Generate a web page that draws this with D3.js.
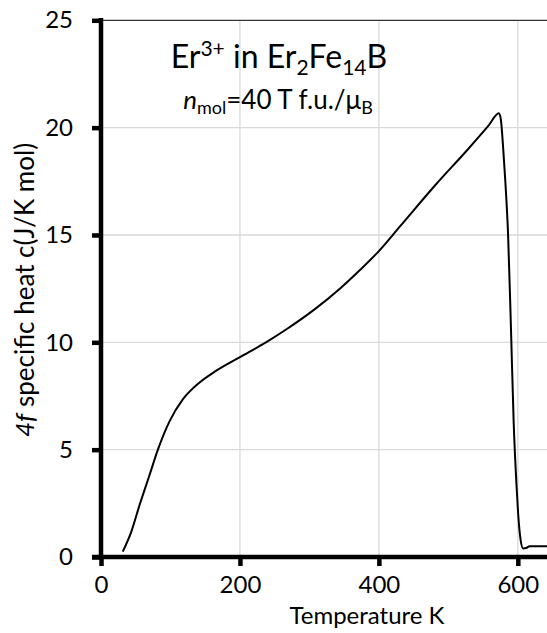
<!DOCTYPE html>
<html>
<head>
<meta charset="utf-8">
<script src="https://cdn.jsdelivr.net/npm/d3@7"></script>
<style>
  body { margin: 0; background: #fff; }
  svg { display: block; font-family: Lato, "Open Sans", sans-serif; }
</style>
</head>
<body>
<div id="chart"></div>
<script>
// data: temperature (K) and 4f specific heat (J/K mol)
const temps = [31.3, 43.4, 55.4, 69.9, 81.9, 98.8, 118, 142, 166, 200, 238.6, 267.5, 306, 344.6,
  373.5, 400, 431, 482, 527.6, 557.8, 572.7, 575.5, 579, 582, 586, 590, 594, 598, 600.4, 604, 607.6, 612, 617, 642];
const heat = [0.25, 1.16, 2.41, 3.82, 5.0, 6.33, 7.35, 8.13, 8.68, 9.31, 10.02, 10.62, 11.5, 12.52,
  13.39, 14.25, 15.42, 17.35, 18.97, 20.09, 20.67, 20.4, 19.0, 17.5, 15.0, 10.8, 6.3, 3.4, 2.05, 0.8, 0.4, 0.42, 0.5, 0.5];
const xTicks = [0, 200, 400, 600];
const yTicks = [0, 5, 10, 15, 20, 25];

const width = 547, height = 633;
const svg = d3.select("#chart").append("svg")
  .attr("width", width).attr("height", height);

const x = d3.scaleLinear().domain([0, 642]).range([101, 547]);
const y = d3.scaleLinear().domain([0, 25]).range([557, 20.3]);

// gridlines
svg.append("g").selectAll("line").data(xTicks.filter(d => d > 0)).join("line")
  .attr("x1", d => x(d)).attr("x2", d => x(d))
  .attr("y1", y(0)).attr("y2", y(25))
  .attr("stroke", "#d9d9d9").attr("stroke-width", 1.3);
svg.append("g").selectAll("line").data(yTicks.filter(d => d > 0 && d < 25)).join("line")
  .attr("x1", x(0)).attr("x2", width)
  .attr("y1", d => y(d)).attr("y2", d => y(d))
  .attr("stroke", "#d9d9d9").attr("stroke-width", 1.3);

// top border
svg.append("line")
  .attr("x1", x(0)).attr("x2", width)
  .attr("y1", y(25)).attr("y2", y(25))
  .attr("stroke", "#333").attr("stroke-width", 1.3);

// curve
const line = d3.line().x((d, i) => x(temps[i])).y(d => y(d)).curve(d3.curveMonotoneX);
svg.append("path")
  .attr("d", line(heat))
  .attr("fill", "none").attr("stroke", "#000").attr("stroke-width", 2);

// axes
const xAxis = svg.append("g")
  .attr("transform", `translate(0,${y(0)})`)
  .call(d3.axisBottom(x).tickValues(xTicks).tickSize(9).tickSizeOuter(0).tickPadding(9));
const yAxis = svg.append("g")
  .attr("transform", `translate(${x(0)},0)`)
  .call(d3.axisLeft(y).tickValues(yTicks).tickSize(9).tickSizeOuter(0).tickPadding(19));

[xAxis, yAxis].forEach(a => {
  a.select(".domain").remove();
  a.selectAll(".tick line").attr("stroke", "#000").attr("stroke-width", 4.5);
  a.selectAll(".tick text")
    .style("font-family", "Lato, sans-serif")
    .style("font-size", "24px")
    .attr("fill", "#000");
});
xAxis.selectAll(".tick text").attr("dy", "0.75em");

// thick axis lines
svg.append("line")
  .attr("x1", x(0)).attr("x2", x(0))
  .attr("y1", y(0)).attr("y2", y(25) - 2.2)
  .attr("stroke", "#000").attr("stroke-width", 4.5);
svg.append("line")
  .attr("x1", x(0) - 9).attr("x2", width)
  .attr("y1", y(0)).attr("y2", y(0))
  .attr("stroke", "#000").attr("stroke-width", 4.5);

// axis titles
svg.append("text")
  .attr("x", 367).attr("y", 624)
  .attr("text-anchor", "middle")
  .style("font-size", "24px")
  .text("Temperature K");

const yTitle = svg.append("text")
  .attr("transform", "translate(34,290) rotate(-90)")
  .attr("text-anchor", "middle")
  .style("font-size", "26px");
yTitle.append("tspan").style("font-style", "italic").text("4f");
yTitle.append("tspan").text(" specific heat c(J/K mol)");

// in-plot labels
const t1 = svg.append("text")
  .attr("x", 279).attr("y", 68)
  .attr("text-anchor", "middle")
  .style("font-size", "32px");
t1.append("tspan").text("Er");
t1.append("tspan").attr("dy", -12).style("font-size", "21px").text("3+");
t1.append("tspan").attr("dy", 12).text(" in Er");
t1.append("tspan").attr("dy", 7).style("font-size", "21px").text("2");
t1.append("tspan").attr("dy", -7).text("Fe");
t1.append("tspan").attr("dy", 7).style("font-size", "21px").text("14");
t1.append("tspan").attr("dy", -7).text("B");

const t2 = svg.append("text")
  .attr("x", 278).attr("y", 109)
  .attr("text-anchor", "middle")
  .style("font-size", "26px");
t2.append("tspan").style("font-style", "italic").text("n");
t2.append("tspan").attr("dy", 5).style("font-size", "18px").text("mol");
t2.append("tspan").attr("dy", -5).text("=40 T f.u./μ");
t2.append("tspan").attr("dy", 5).style("font-size", "18px").text("B");
</script>
</body>
</html>
